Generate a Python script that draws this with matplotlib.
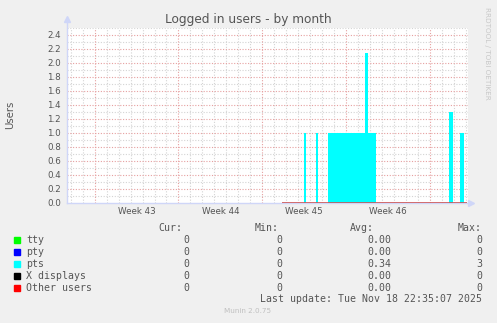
import matplotlib
matplotlib.use("Agg")
import matplotlib.pyplot as plt
import numpy as np

W, H = 497, 323

# x values are days counted from the start of week 43
pts_t = [15.65, 17.49, 17.65, 18.49, 18.65, 19.52, 22.61, 22.83, 23.48,
         29.60, 29.91, 30.52, 30.83, 31.08]
pts_v = [0, 1.0, 0, 1.0, 0, 1.0, 2.14, 1.0, 0,
         1.30, 0, 1.0, 0, 0]
data_start = 15.65
data_end = 31.08

weeks = ["Week 43", "Week 44", "Week 45", "Week 46"]
week_starts = [0, 7, 14, 21, 28]

series = ["tty", "pty", "pts", "X displays", "Other users"]
colors = ["#00FF00", "#0000FF", "#00FFFF", "#000000", "#FF0000"]
cur = ["0", "0", "0", "0", "0"]
vmin = ["0", "0", "0", "0", "0"]
avg = ["0.00", "0.00", "0.34", "0.00", "0.00"]
vmax = ["0", "0", "3", "0", "0"]

BACK = "#F0F0F0"
FONT = "#555555"
AXIS = "#CFD6F8"

fig = plt.figure(figsize=(W / 100, H / 100), dpi=100, facecolor=BACK)

def px(x, y):
    return x / W, 1 - y / H

left, right, top, bottom = 67, 468, 28, 203
ax = fig.add_axes([left / W, 1 - bottom / H, (right - left) / W, (bottom - top) / H])
ax.set_facecolor("white")
ax.set_xlim(-2.31, 31.19)
ax.set_ylim(0, 2.5)

# grid
dots = (0, (1, 1.5))
for d in np.arange(-2, 32):
    if d in week_starts:
        continue
    ax.axvline(d, color="#D4D4D4", lw=0.8, ls=dots, zorder=0)
for y in np.arange(0.1, 2.51, 0.2):
    ax.axhline(y, color="#D4D4D4", lw=0.8, ls=dots, zorder=0)
for d in week_starts:
    ax.axvline(d, color="#E6A0A0", lw=0.8, ls=dots, zorder=0)
for y in np.arange(0.2, 2.45, 0.2):
    ax.axhline(y, color="#E6A0A0", lw=0.8, ls=dots, zorder=0)

# pts area
ax.fill_between(pts_t, pts_v, 0, step="post", color="#00FFFF", lw=0, zorder=2)
# zero line for other series
ax.plot([data_start, data_end], [0, 0], color="#CC5555", lw=1.2, zorder=3, solid_capstyle="butt")

for s in ax.spines.values():
    s.set_visible(False)
ax.plot([0, 0], [0, 1.03], transform=ax.transAxes, color=AXIS, lw=1, clip_on=False, zorder=1)
ax.plot([0, 1.0], [0, 0], transform=ax.transAxes, color=AXIS, lw=1, clip_on=False, zorder=1)
ax.plot([0], [1.05], marker="^", ms=4, color=AXIS, transform=ax.transAxes, clip_on=False)
ax.plot([1.0 + 3 / (right - left)], [0], marker=">", ms=4, color=AXIS, transform=ax.transAxes, clip_on=False)

ax.set_yticks(np.arange(0, 2.41, 0.2))
ax.set_yticklabels(["%.1f" % v for v in np.arange(0, 2.41, 0.2)])
ax.set_xticks([w + 3.5 for w in week_starts[:4]])
ax.set_xticklabels(weeks)
ax.tick_params(axis="both", length=0, labelsize=6.3, labelcolor=FONT)
ax.tick_params(axis="y", pad=4.5)
ax.tick_params(axis="x", pad=3)

fig.text(*px(248, 19), "Logged in users - by month", ha="center", va="center",
         fontsize=8.7, color=FONT)
fig.text(*px(10, 115), "Users", ha="center", va="center", rotation=90,
         fontsize=7.3, color=FONT)
fig.text(*px(487, 53), "RRDTOOL / TOBI OETIKER", ha="center", va="center",
         rotation=270, fontsize=5.2, color="#C8C8C8")

mono = "DejaVu Sans Mono"
fs = 7.1
hy = 228
fig.text(*px(182, hy), "Cur:", ha="right", va="center", family=mono, fontsize=fs, color=FONT)
fig.text(*px(255, hy), "Min:", ha="left", va="center", family=mono, fontsize=fs, color=FONT)
fig.text(*px(350, hy), "Avg:", ha="left", va="center", family=mono, fontsize=fs, color=FONT)
fig.text(*px(482, hy), "Max:", ha="right", va="center", family=mono, fontsize=fs, color=FONT)
for i, name in enumerate(series):
    y = 240 + 12 * i
    fig.patches.append(plt.Rectangle(px(14, y + 3), 6 / W, 6 / H, transform=fig.transFigure,
                                     color=colors[i]))
    fig.text(*px(26, y), name, ha="left", va="center", family=mono, fontsize=fs, color=FONT)
    fig.text(*px(189, y), cur[i], ha="right", va="center", family=mono, fontsize=fs, color=FONT)
    fig.text(*px(282, y), vmin[i], ha="right", va="center", family=mono, fontsize=fs, color=FONT)
    fig.text(*px(391, y), avg[i], ha="right", va="center", family=mono, fontsize=fs, color=FONT)
    fig.text(*px(482, y), vmax[i], ha="right", va="center", family=mono, fontsize=fs, color=FONT)

fig.text(*px(482, 299), "Last update: Tue Nov 18 22:35:07 2025", ha="right", va="center",
         family=mono, fontsize=fs, color=FONT)
fig.text(*px(248, 311), "Munin 2.0.75", ha="center", va="center", fontsize=5.2, color="#C0C0C0")

fig.savefig("out.png", dpi=100, facecolor=BACK)
